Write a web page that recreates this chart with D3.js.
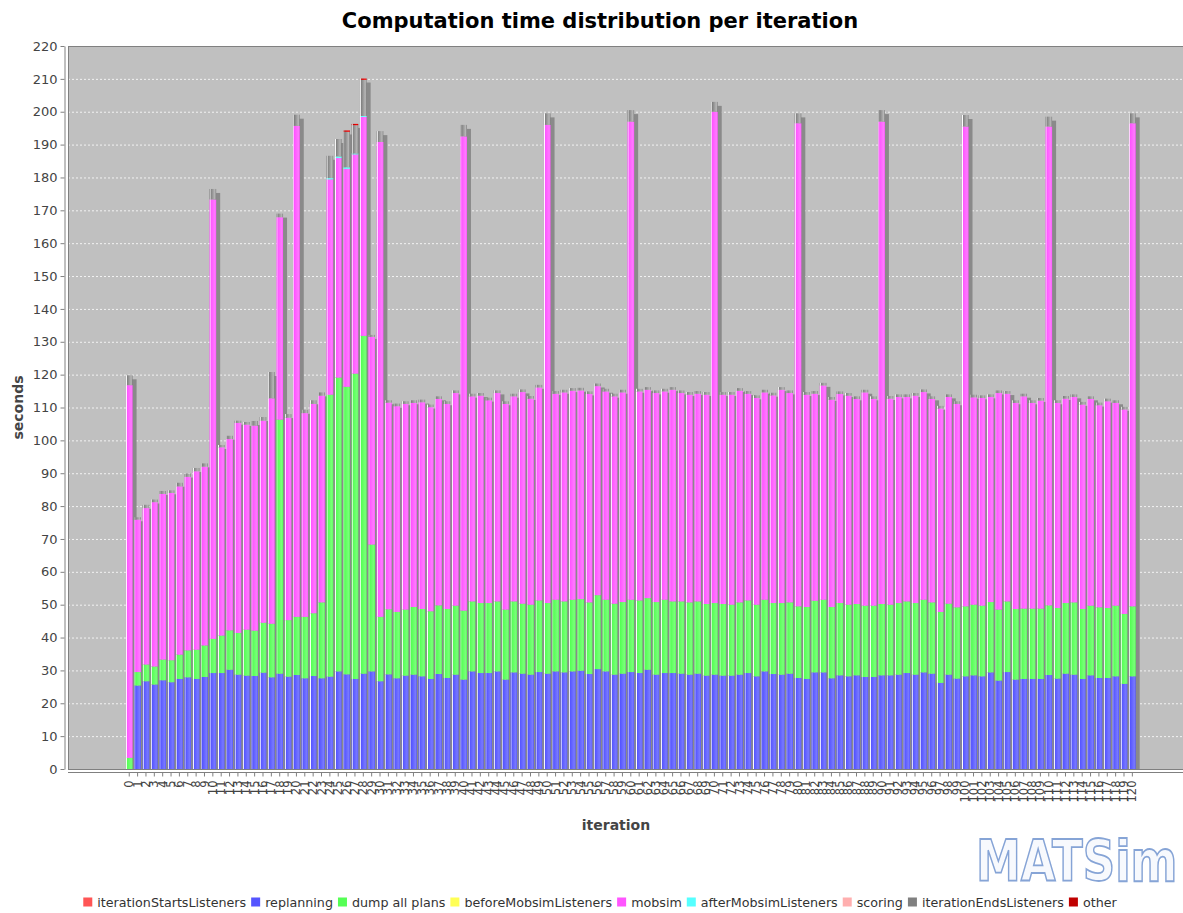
<!DOCTYPE html>
<html>
<head>
<meta charset="utf-8">
<script src="https://cdn.jsdelivr.net/npm/d3@7"></script>
<style>
  body { margin: 0; background: #fff; }
  svg { display: block; font-family: "DejaVu Sans", sans-serif; }
</style>
</head>
<body>
<div id="chart"></div>
<script>
// Iterations 0..120 (category labels)
const iterations = [
  0,1,2,3,4,5,6,7,8,9,10,11,12,13,14,15,16,17,18,19,20,21,22,23,24,25,26,27,28,29,
  30,31,32,33,34,35,36,37,38,39,40,41,42,43,44,45,46,47,48,49,50,51,52,53,54,55,56,57,58,59,
  60,61,62,63,64,65,66,67,68,69,70,71,72,73,74,75,76,77,78,79,80,81,82,83,84,85,86,87,88,89,
  90,91,92,93,94,95,96,97,98,99,100,101,102,103,104,105,106,107,108,109,110,111,112,113,114,115,116,117,118,119,120
];

// seconds per iteration
const replanning = [
  0,25.4,26.7,25.7,27.0,26.4,27.4,27.9,27.4,28.0,29.2,29.2,30.2,28.7,28.4,28.3,29.3,27.9,29.0,28.1,
  28.6,27.6,28.3,27.6,28.1,29.7,28.8,27.4,29.0,29.7,26.7,28.8,27.6,28.4,28.7,28.2,27.4,28.9,27.7,28.7,
  27.2,29.7,29.2,29.2,29.7,27.2,29.4,29.0,28.7,29.5,29.0,29.7,29.4,29.7,29.9,28.9,30.4,29.7,28.7,29.0,
  29.5,29.2,30.2,28.7,29.2,29.2,29.0,28.7,29.0,28.4,28.7,28.4,28.4,28.7,29.2,28.2,29.7,28.9,28.7,29.0,
  27.7,27.4,29.4,29.4,27.6,28.5,28.2,28.5,28.0,28.0,28.5,28.5,28.7,29.2,28.7,29.4,29.0,26.2,28.7,27.5,
  28.2,28.5,28.2,29.4,26.9,29.5,27.2,27.4,27.4,27.4,28.6,27.5,29.0,28.7,27.4,28.5,27.7,27.7,28.2,25.9,
  28.2
];
const dumpAllPlans = [
  3.4,4.1,5.1,5.5,6.3,6.7,7.4,8.2,8.9,9.6,10.4,11.4,12.0,12.7,14.0,13.8,15.2,16.3,77.3,17.2,
  17.7,18.7,19.1,23.1,85.8,89.4,87.5,92.9,102.8,38.6,19.6,19.8,20.2,20.1,20.6,20.5,20.6,20.9,21.0,21.0,
  21.0,21.3,21.3,21.3,21.3,21.3,21.6,21.3,21.3,21.8,21.5,21.8,21.6,21.8,21.8,21.8,22.5,21.8,21.6,21.8,
  22.0,22.1,21.8,22.1,22.3,21.8,22.0,22.0,22.0,21.8,21.8,21.8,21.6,22.0,22.1,21.8,21.8,21.6,21.8,21.7,
  21.8,21.9,21.8,22.1,21.7,22.0,21.8,21.7,21.7,21.7,21.7,21.5,21.8,21.8,21.8,22.1,21.7,21.6,21.6,21.7,
  21.3,21.5,21.5,21.4,21.6,21.5,21.5,21.4,21.4,21.4,21.2,21.5,21.5,22.0,21.3,21.2,21.5,21.3,21.5,21.3,
  21.3
];
const mobsim = [
  113.4,46.4,47.6,50.0,50.4,50.9,51.2,52.8,54.3,54.4,133.7,57.3,58.2,63.9,62.4,62.4,61.5,68.6,61.6,61.6,
  149.4,62.0,63.7,62.9,65.5,66.8,66.3,66.7,66.6,63.2,144.5,62.9,62.6,62.6,62.1,62.9,62.1,62.8,62.4,64.7,
  144.3,62.4,63.1,61.7,63.4,62.6,62.4,64.4,62.7,64.8,145.5,62.7,63.6,63.6,63.5,63.4,63.6,63.4,63.1,63.8,
  145.5,63.6,63.4,63.6,63.4,64.4,63.4,63.2,63.2,63.7,149.5,63.7,63.9,64.4,62.9,62.9,63.1,63.2,64.9,63.7,
  147.0,64.6,63.0,65.2,63.1,63.6,63.6,62.4,64.9,62.9,146.8,62.7,62.7,62.2,63.1,63.2,61.9,61.9,62.9,61.9,
  146.0,63.1,63.2,62.4,65.9,63.2,62.7,64.6,62.6,63.3,145.7,62.4,62.2,62.5,62.2,62.9,61.5,62.9,61.7,62.2,
  147.0
];
const iterationEndsListeners = [
  3.0,0.7,1.0,0.8,0.9,0.8,1.1,1.0,1.0,1.0,3.2,0.7,1.0,0.7,0.8,1.4,1.1,8.0,1.1,1.1,
  3.4,1.0,1.1,1.0,6.8,5.3,10.8,8.6,11.0,0.6,3.3,0.7,0.8,0.8,0.8,0.8,0.8,0.8,0.8,0.8,
  3.5,0.8,0.8,0.8,0.8,0.8,0.8,0.8,0.8,0.8,3.5,0.8,0.8,0.8,0.8,0.8,0.8,0.8,0.8,0.8,
  3.5,0.8,0.8,0.8,0.8,0.8,0.8,0.8,0.8,0.8,3.0,0.8,0.8,0.8,0.8,0.8,0.8,0.8,0.8,0.8,
  3.0,0.8,0.8,0.8,0.8,0.8,0.8,0.8,0.8,0.8,3.5,0.8,0.8,0.8,0.8,0.8,0.8,0.8,0.8,0.8,
  3.5,0.8,0.8,0.8,0.8,0.8,0.8,0.8,0.8,0.8,3.0,0.8,0.8,0.8,0.8,0.8,0.8,0.8,0.8,0.8,
  3.0
];
// tiny series: only the iterations where something is visible, everything else is 0
const afterMobsimListeners = { 24: 0.4, 25: 0.5, 26: 0.5, 27: 0.3, 28: 0.3 };
const other = { 26: 0.4, 27: 0.4, 28: 0.4 };
const iterationStartsListeners = {};
const beforeMobsimListeners = {};
const scoring = {};

const seriesNames = ["iterationStartsListeners", "replanning", "dump all plans", "beforeMobsimListeners",
  "mobsim", "afterMobsimListeners", "scoring", "iterationEndsListeners", "other"];
const seriesColors = ["#ff5555", "#5555ff", "#55ff55", "#ffff55", "#ff55ff", "#55ffff", "#ffafaf", "#808080", "#c00000"];
const seriesValues = [iterationStartsListeners, replanning, dumpAllPlans, beforeMobsimListeners,
  mobsim, afterMobsimListeners, scoring, iterationEndsListeners, other];

const yTicks = [0,10,20,30,40,50,60,70,80,90,100,110,120,130,140,150,160,170,180,190,200,210,220];

// Layout
const width = 1183, height = 913;
const plot = { left: 68, top: 46, right: 1190, bottom: 769 };

const svg = d3.select("#chart").append("svg")
  .attr("width", width)
  .attr("height", height);

// one row per iteration for d3.stack
const rows = iterations.map((it, i) => {
  const r = { iteration: it };
  seriesNames.forEach((name, k) => {
    const v = seriesValues[k];
    r[name] = Array.isArray(v) ? v[i] : (v[it] || 0);
  });
  return r;
});
const layers = d3.stack().keys(seriesNames)(rows);

const x = d3.scaleBand()
  .domain(iterations)
  .range([125.9, 1135.7])
  .paddingInner(0.2)
  .paddingOuter(0);

const y = d3.scaleLinear()
  .domain([0, 220])
  .range([plot.bottom, plot.top]);

// gradient bars like the JFreeChart GradientBarPainter
const defs = svg.append("defs");
function brighter(c) {
  const col = d3.rgb(c);
  return d3.rgb(Math.min(255, col.r / 0.7), Math.min(255, col.g / 0.7), Math.min(255, col.b / 0.7)).formatHex();
}
seriesColors.forEach((c, k) => {
  const g = defs.append("linearGradient")
    .attr("id", "grad" + k)
    .attr("x1", 0).attr("x2", 1).attr("y1", 0).attr("y2", 0);
  [[0, c], [0.1, "#ffffff"], [0.2, c], [0.8, brighter(c)], [1, c]].forEach(s => {
    g.append("stop").attr("offset", s[0]).attr("stop-color", s[1]);
  });
});
defs.append("clipPath").attr("id", "plotClip")
  .append("rect")
  .attr("x", plot.left).attr("y", plot.top)
  .attr("width", plot.right - plot.left).attr("height", plot.bottom - plot.top);

// Title
svg.append("text")
  .attr("x", 600)
  .attr("y", 28)
  .attr("text-anchor", "middle")
  .style("font-size", "21px")
  .style("font-weight", "bold")
  .attr("fill", "#000")
  .text("Computation time distribution per iteration");

// Plot background
svg.append("rect")
  .attr("x", plot.left).attr("y", plot.top)
  .attr("width", plot.right - plot.left).attr("height", plot.bottom - plot.top)
  .attr("fill", "#c0c0c0");

// Gridlines
svg.append("g")
  .selectAll("line")
  .data(yTicks.filter(t => t > 0))
  .join("line")
  .attr("x1", plot.left).attr("x2", plot.right)
  .attr("y1", d => y(d) + 0.5).attr("y2", d => y(d) + 0.5)
  .attr("stroke", "#ffffff")
  .attr("stroke-width", 0.8)
  .attr("stroke-dasharray", "2,2");

const barsG = svg.append("g").attr("clip-path", "url(#plotClip)");

// Shadows (offset 4px right and down)
barsG.append("g")
  .selectAll("rect")
  .data(rows)
  .join("rect")
  .attr("x", d => x(d.iteration) + 4)
  .attr("y", d => y(d3.sum(seriesNames, n => d[n])) + 4)
  .attr("width", x.bandwidth())
  .attr("height", d => Math.max(0, y(0) - y(d3.sum(seriesNames, n => d[n])) - 4))
  .attr("fill", "#8a8a8a");

// Stacked bars
barsG.selectAll("g.layer")
  .data(layers)
  .join("g")
  .attr("class", "layer")
  .attr("fill", (d, k) => "url(#grad" + k + ")")
  .selectAll("rect")
  .data(d => d.filter(p => p[1] - p[0] > 0))
  .join("rect")
  .attr("x", d => x(d.data.iteration))
  .attr("y", d => y(d[1]))
  .attr("width", x.bandwidth())
  .attr("height", d => y(d[0]) - y(d[1]));

// Plot outline
svg.append("rect")
  .attr("x", plot.left + 0.5).attr("y", plot.top + 0.5)
  .attr("width", plot.right - plot.left).attr("height", plot.bottom - plot.top)
  .attr("fill", "none")
  .attr("stroke", "#808080")
  .attr("stroke-width", 1);

// Y axis
const yAxis = svg.append("g")
  .attr("transform", "translate(64.5,0)")
  .call(d3.axisLeft(y).tickValues(yTicks).tickSize(4).tickSizeOuter(0));
yAxis.select(".domain").attr("stroke", "#808080");
yAxis.selectAll(".tick line").attr("stroke", "#808080");
yAxis.selectAll("text")
  .attr("fill", "#444")
  .style("font-size", "13px")
  .style("font-family", "DejaVu Sans, sans-serif");

// X axis
svg.append("line")
  .attr("x1", plot.left).attr("x2", plot.right)
  .attr("y1", 772.5).attr("y2", 772.5)
  .attr("stroke", "#808080");
const xAxis = svg.append("g")
  .attr("transform", "translate(0,772.5)")
  .call(d3.axisBottom(x).tickSize(4).tickSizeOuter(0));
xAxis.select(".domain").remove();
xAxis.selectAll(".tick line").attr("stroke", "#808080");
xAxis.selectAll("text")
  .attr("transform", "rotate(-90)")
  .attr("x", -8)
  .attr("y", 0)
  .attr("dy", "0.35em")
  .style("text-anchor", "end")
  .attr("fill", "#444")
  .style("font-size", "11.5px")
  .style("font-family", "DejaVu Sans, sans-serif");

// Axis titles
svg.append("text")
  .attr("transform", "translate(23,407.5) rotate(-90)")
  .attr("text-anchor", "middle")
  .style("font-size", "14px")
  .style("font-weight", "bold")
  .attr("fill", "#444")
  .text("seconds");

svg.append("text")
  .attr("x", 616)
  .attr("y", 830)
  .attr("text-anchor", "middle")
  .style("font-size", "14px")
  .style("font-weight", "bold")
  .attr("fill", "#444")
  .text("iteration");

// MATSim logo (outlined letters, stretched vertically)
svg.append("text")
  .attr("transform", "translate(976,881) scale(1,1.26)")
  .style("font-size", "45px")
  .style("font-weight", "bold")
  .attr("fill", "#f7f9fd")
  .attr("stroke", "#86a4d6")
  .attr("stroke-width", 1.4)
  .text("MATSim");

// Legend
const legend = svg.append("g");
const items = legend.selectAll("g")
  .data(seriesNames)
  .join("g");
items.append("rect")
  .attr("width", 9).attr("height", 9)
  .attr("y", -9.5)
  .attr("fill", (d, k) => seriesColors[k]);
items.append("text")
  .attr("x", 14)
  .attr("y", 0)
  .style("font-size", "12.7px")
  .attr("fill", "#333")
  .text(d => d);
let lx = 0;
items.each(function () {
  const w = d3.select(this).select("text").node().getComputedTextLength();
  d3.select(this).attr("transform", `translate(${lx},0)`);
  lx += 14 + w + 5;
});
const legendWidth = lx - 5;
legend.attr("transform", `translate(${600 - legendWidth / 2},907)`);
</script>
</body>
</html>
